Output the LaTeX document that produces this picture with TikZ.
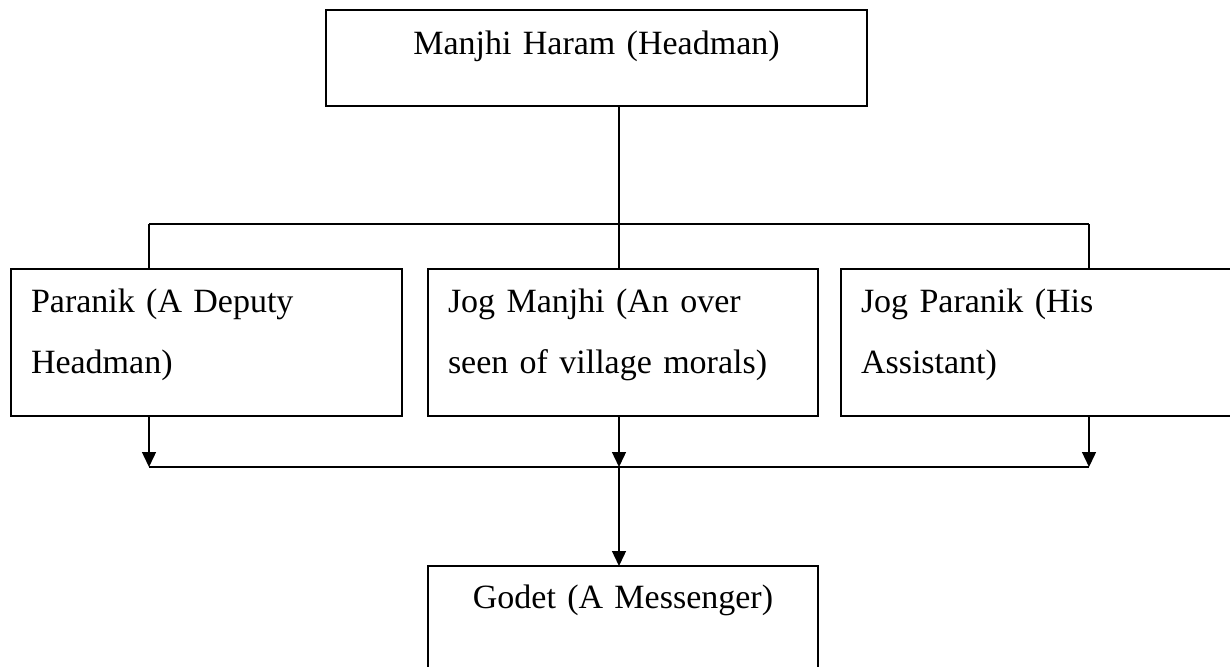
\documentclass[tikz,border=0pt]{standalone}
\usepackage{fontspec}
\setmainfont{Liberation Serif}
\usetikzlibrary{arrows.meta}

\begin{document}
\begin{tikzpicture}[
    x=1pt, y=-1pt, % work in picture pixels, y pointing down
    >={Triangle[length=15pt, width=14pt]}, % Filled arrow tips
    box/.style={draw, line width=1.7pt, rectangle, outer sep=0pt, inner xsep=20pt, inner ysep=0pt,
        anchor=north west, font=\fontsize{34}{61}\selectfont, align=left,
        text height=43pt, text depth=104pt}, % Style for the boxes
    link/.style={line width=1.4pt} % Style for connectors
]
\useasboundingbox (0,0) rectangle (1230,666);
\clip (0,0) rectangle (1230,666);

% Boxes
\node[box, align=center, text width=501pt, text height=45pt, text depth=51pt] (headman) at (326,10) {Manjhi Haram (Headman)};
\node[box, text width=351pt] (paranik) at (11,269) {Paranik (A Deputy\\Headman)};
\node[box, text width=350pt] (jogmanjhi) at (428,269) {Jog Manjhi (An over\\seen of village morals)};
\node[box, text width=359pt] (jogparanik) at (841,269) {Jog Paranik (His\\Assistant)};
\node[box, align=center, text width=350pt, text height=42pt, text depth=120pt] (godet) at (428,566) {Godet (A Messenger)};

% Upper bus
\coordinate (busL) at (149,224);
\coordinate (busM) at (619,224);
\coordinate (busR) at (1089,224);
\draw[link] (headman.south -| busM) -- (busM);
\draw[link, line width=1.2pt] (busL) -- (busR);
\draw[link] (busL) -- (busL |- paranik.north);
\draw[link] (busM) -- (busM |- jogmanjhi.north);
\draw[link] (busR) -- (busR |- jogparanik.north);

% Lower bus
\coordinate (joinL) at (149,467);
\coordinate (joinM) at (619,467);
\coordinate (joinR) at (1089,467);
\draw[link, ->] (paranik.south -| joinL) -- (joinL);
\draw[link, ->] (jogmanjhi.south -| joinM) -- (joinM);
\draw[link, ->] (jogparanik.south -| joinR) -- (joinR);
\draw[link, line width=1.2pt] (joinL) -- (joinR);
\draw[link, ->] (joinM) -- (joinM |- godet.north);

\end{tikzpicture}
\end{document}
